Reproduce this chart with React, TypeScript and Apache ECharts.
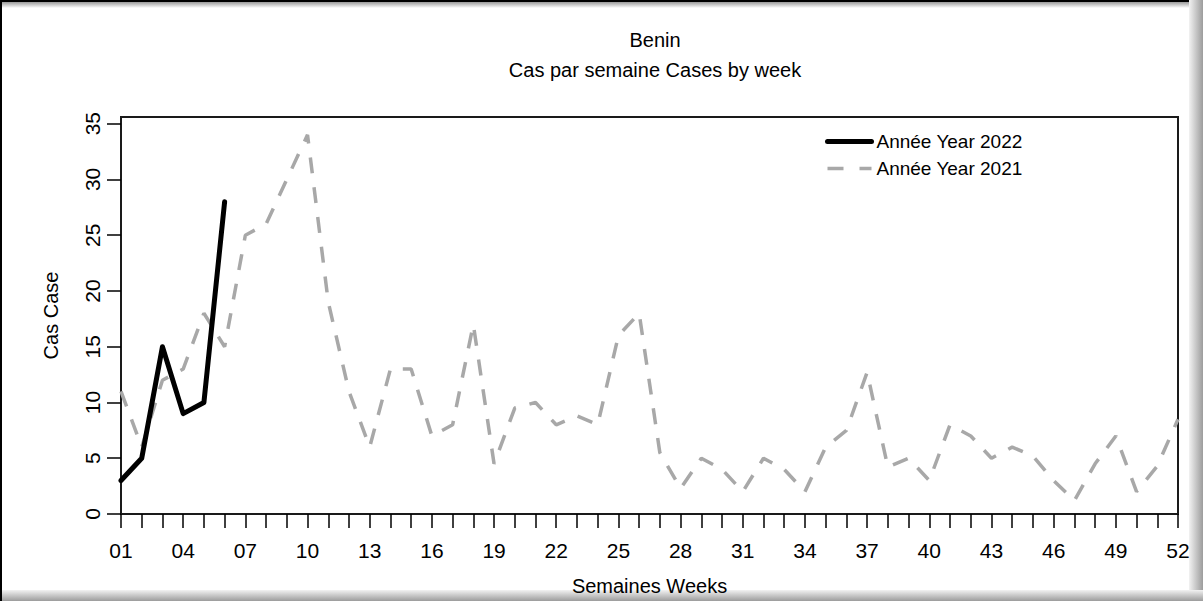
import React, { useEffect, useRef } from "react";
import * as echarts from "echarts";

const weeks = [
  "01","02","03","04","05","06","07","08","09","10","11","12","13",
  "14","15","16","17","18","19","20","21","22","23","24","25","26",
  "27","28","29","30","31","32","33","34","35","36","37","38","39",
  "40","41","42","43","44","45","46","47","48","49","50","51","52",
];

const cases2022 = [3, 5, 15, 9, 10, 28];

const cases2021 = [
  11, 6, 12, 13, 18, 15, 25, 26, 30, 34, 19, 11, 6,
  13, 13, 7, 8, 17, 4.5, 9.5, 10, 8, 8.8, 8, 16, 18,
  5.5, 2.3, 5, 4, 2, 5, 4, 2, 6, 7.5, 12.7, 4.2, 5,
  3, 8, 7, 5, 6, 5.2, 3, 1.2, 4.5, 7, 2, 4.3, 8.5,
];

const yTicks = [0, 5, 10, 15, 20, 25, 30, 35];

const title = "Benin";
const subtitle = "Cas par semaine Cases by week";
const name2022 = "Année Year 2022";
const name2021 = "Année Year 2021";
const xName = "Semaines Weeks";
const yName = "Cas Case";

const FONT = "'Liberation Sans', Arial, sans-serif";
const GRAY = "#a8a8a8";

export default function App() {
  const ref = useRef<HTMLDivElement>(null);

  useEffect(() => {
    if (!ref.current) return;
    const chart = echarts.init(ref.current, null, { renderer: "svg" });
    const W = 1203;
    const H = 601;
    chart.setOption({
      animation: false,
      backgroundColor: "#ffffff",
      textStyle: { fontFamily: FONT },
      title: [
        {
          text: title,
          left: 650,
          top: 25,
          textAlign: "center",
          textStyle: { fontSize: 20, fontWeight: "normal", color: "#000", fontFamily: FONT },
        },
        {
          text: subtitle,
          left: 650,
          top: 55,
          textAlign: "center",
          textStyle: { fontSize: 20, fontWeight: "normal", color: "#000", fontFamily: FONT },
        },
      ],
      legend: {
        data: [
          { name: name2022, lineStyle: { width: 5, color: "#000" } },
          { name: name2021, lineStyle: { width: 3.5, color: GRAY, type: [16, 16] } },
        ],
        orient: "vertical",
        left: 820,
        top: 127,
        itemWidth: 44,
        itemHeight: 18,
        itemGap: 8,
        itemStyle: { opacity: 0 },
        textStyle: { fontSize: 19, color: "#000", fontFamily: FONT },
      },
      grid: {
        left: 121,
        right: W - 1178,
        top: 117,
        bottom: H - 516,
        show: true,
        borderColor: "#1a1a1a",
        borderWidth: 2,
        backgroundColor: "transparent",
      },
      xAxis: {
        type: "category",
        data: weeks,
        boundaryGap: false,
        name: xName,
        nameLocation: "middle",
        nameGap: 62,
        nameTextStyle: { fontSize: 20, color: "#000", fontFamily: FONT },
        axisLine: { show: true, lineStyle: { color: "#1a1a1a", width: 2 } },
        axisTick: { show: true, interval: 0, length: 14, lineStyle: { color: "#000", width: 1.5 } },
        axisLabel: { interval: 2, margin: 26, fontSize: 21, color: "#000", fontFamily: FONT },
        splitLine: { show: false },
      },
      yAxis: {
        type: "value",
        min: 0,
        max: 35.6,
        name: yName,
        nameLocation: "middle",
        nameGap: 60,
        nameRotate: 90,
        nameTextStyle: { fontSize: 20, color: "#000", fontFamily: FONT },
        axisLine: { show: true, lineStyle: { color: "#1a1a1a", width: 2 } },
        axisTick: { show: true, length: 14, customValues: yTicks, lineStyle: { color: "#000", width: 1.5 } },
        axisLabel: {
          customValues: yTicks,
          rotate: 90,
          margin: 18,
          fontSize: 21,
          color: "#000",
          fontFamily: FONT,
        },
        splitLine: { show: false },
      },
      series: [
        {
          name: name2021,
          type: "line",
          data: cases2021,
          symbol: "none",
          z: 2,
          lineStyle: { color: GRAY, width: 3.5, type: [16, 14], cap: "butt" },
          itemStyle: { color: GRAY },
        },
        {
          name: name2022,
          type: "line",
          data: cases2022,
          symbol: "none",
          z: 3,
          lineStyle: { color: "#000000", width: 5, join: "round", cap: "round" },
          itemStyle: { color: "#000000" },
        },
      ],
      graphic: [
        { type: "rect", shape: { x: 0, y: 0, width: W, height: 2 }, style: { fill: "#000" }, silent: true },
        { type: "rect", shape: { x: 0, y: 0, width: 2, height: H }, style: { fill: "#000" }, silent: true },
        {
          type: "rect",
          shape: { x: 2, y: 2, width: W - 2, height: 6 },
          style: {
            fill: new echarts.graphic.LinearGradient(0, 0, 0, 1, [
              { offset: 0, color: "#9a9a9a" },
              { offset: 1, color: "#ffffff" },
            ]),
          },
          silent: true,
        },
        {
          type: "rect",
          shape: { x: 1189, y: 0, width: W - 1189, height: H },
          style: {
            fill: new echarts.graphic.LinearGradient(0, 0, 1, 0, [
              { offset: 0, color: "#f2f2f2" },
              { offset: 1, color: "#9c9c9c" },
            ]),
          },
          silent: true,
        },
        {
          type: "rect",
          shape: { x: 2, y: 590, width: W - 2, height: H - 590 },
          style: {
            fill: new echarts.graphic.LinearGradient(0, 0, 0, 1, [
              { offset: 0, color: "#f2f2f2" },
              { offset: 1, color: "#9c9c9c" },
            ]),
          },
          silent: true,
        },
      ],
    });
    return () => chart.dispose();
  }, []);

  return (
    <div
      ref={ref}
      style={{ position: "fixed", left: 0, top: 0, width: 1203, height: 601 }}
    />
  );
}
